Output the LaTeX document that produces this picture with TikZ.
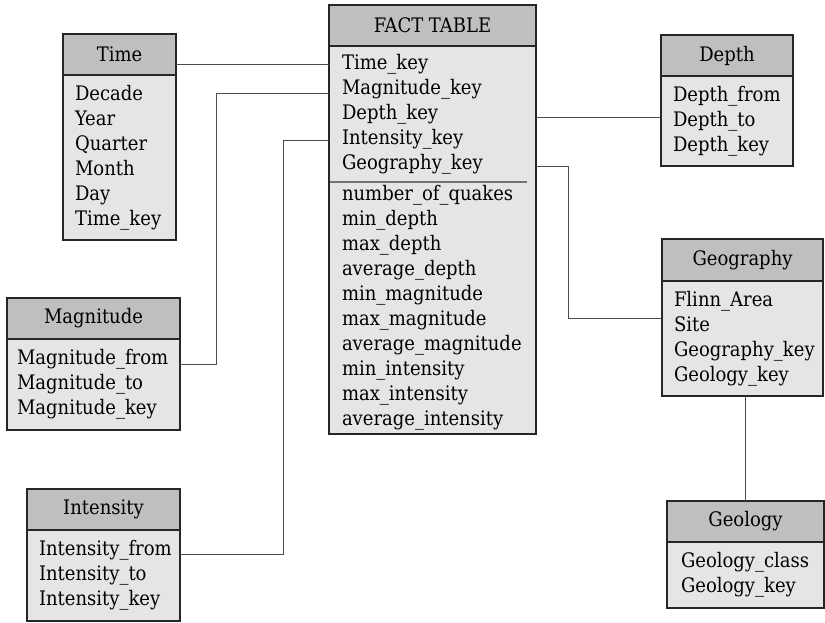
\documentclass[tikz,border=0pt]{standalone}
\usepackage{fontspec}
\setmainfont{DejaVu Serif Condensed}
\usetikzlibrary{positioning}
\tikzset{every node/.style={font=\fontsize{20bp}{25bp}\selectfont, outer sep=0pt},
head/.style={draw=black!85, line width=1.3bp, fill=gray!50, minimum height=41bp, inner sep=0pt, anchor=north west}, % title bar of a table
body/.style={draw=black!85, line width=1.3bp, fill=gray!20, inner xsep=12bp, inner ysep=0pt, align=left}, % list of fields
link/.style={draw=black!70, line width=0.9bp}
}

\begin{document}
\begin{tikzpicture}[x=1bp,y=1bp]
    \useasboundingbox (0,0) rectangle (825,-623);

    \node[head,minimum width=207bp] (fact) at (329,-5) {FACT TABLE};
    \node[body,draw=none,below=0pt of fact,text width=181bp,inner xsep=13bp,minimum height=136bp] (fact-keys) {Time\_key\\Magnitude\_key\\Depth\_key\\Intensity\_key\\Geography\_key};
    \node[body,draw=none,below=0pt of fact-keys,text width=181bp,inner xsep=13bp,minimum height=252bp] (fact-vals) {number\_of\_quakes\\min\_depth\\max\_depth\\average\_depth\\min\_magnitude\\max\_magnitude\\average\_magnitude\\min\_intensity\\max\_intensity\\average\_intensity};
    \draw[black!85,line width=1.3bp] (fact-keys.north west) rectangle (fact-vals.south east);
    \draw[black!55,line width=1.2bp] ([xshift=1bp]fact-keys.south west) -- ([xshift=-9bp]fact-keys.south east);

    \node[head,minimum width=113bp] (time) at (63,-34) {Time};
    \node[body,below=0pt of time,text width=89bp,minimum height=165bp] (time-body) {Decade\\Year\\Quarter\\Month\\Day\\Time\_key};

    \node[head,minimum width=173bp] (mag) at (7,-298) {Magnitude};
    \node[body,below=0pt of mag,text width=153bp,inner xsep=10bp,minimum height=91bp] (mag-body) {Magnitude\_from\\Magnitude\_to\\Magnitude\_key};

    \node[head,minimum width=153bp] (int) at (27,-489) {Intensity};
    \node[body,below=0pt of int,text width=129bp,minimum height=91bp] (int-body) {Intensity\_from\\Intensity\_to\\Intensity\_key};

    \node[head,minimum width=132bp] (depth) at (661,-35) {Depth};
    \node[body,below=0pt of depth,text width=108bp,minimum height=90bp] (depth-body) {Depth\_from\\Depth\_to\\Depth\_key};

    \node[head,minimum width=161bp,minimum height=42bp] (geo) at (662,-239) {Geography};
    \node[body,below=0pt of geo,text width=137bp,minimum height=115bp] (geo-body) {Flinn\_Area\\Site\\Geography\_key\\Geology\_key};

    \node[head,minimum width=157bp] (geology) at (667,-501) {Geology};
    \node[body,below=0pt of geology,text width=129bp,inner xsep=14bp,minimum height=66bp] (geology-body) {Geology\_class\\Geology\_key};

    % key rows of the fact table
    \coordinate (k-time) at ([yshift=-18bp]fact-keys.north west);
    \coordinate (k-mag) at ([yshift=-47bp]fact-keys.north west);
    \coordinate (k-depth) at ([yshift=-71bp]fact-keys.north east);
    \coordinate (k-int) at ([yshift=-94bp]fact-keys.north west);
    \coordinate (k-geo) at ([yshift=-120bp]fact-keys.north east);

    \draw[link] (k-time) -- (time.east |- k-time);
    \draw[link] (k-mag) -- ++(-113,0) |- ([yshift=20bp]mag-body.east);
    \draw[link] (k-int) -- ++(-46,0) |- ([yshift=21bp]int-body.east);
    \draw[link] (k-depth) -- (depth-body.west |- k-depth);
    \draw[link] (k-geo) -- ++(32,0) |- ([yshift=20bp]geo-body.west);
    \draw[link] (geology.north) -- (geology.north |- geo-body.south);
\end{tikzpicture}
\end{document}
